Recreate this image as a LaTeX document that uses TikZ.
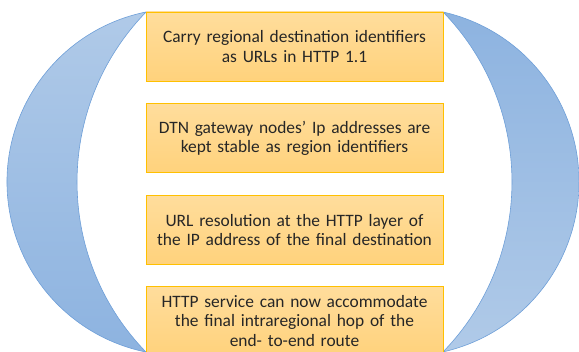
\documentclass[tikz,border=0pt]{standalone}
\usepackage{fontspec}
\setmainfont{Carlito}
\usepackage{xcolor}
\usetikzlibrary{positioning,calc}
\definecolor{moonlight}{HTML}{B0CAE8}
\definecolor{moondark}{HTML}{8DB3E0}
\definecolor{moonedge}{HTML}{6E9FD8}
\definecolor{boxtop}{HTML}{FFDD9C}
\definecolor{boxbottom}{HTML}{FFD27C}
\definecolor{boxedge}{HTML}{FFC000}
\definecolor{ink}{HTML}{262626}

\tikzset{
  stepbox/.style={draw=boxedge, line width=0.8pt, top color=boxtop, bottom color=boxbottom,
    minimum width=297pt, minimum height=69pt, text width=292pt, align=center,
    text=ink, font=\fontsize{17.4}{19.6}\selectfont, inner sep=0pt},
  moon/.style={draw=moonedge, line width=0.6pt}
}

\begin{document}
\begin{tikzpicture}[x=1pt, y=1pt]
      \useasboundingbox (0,0) rectangle (579,352);
      % left and right half moons
      \begin{scope}
        \clip (0,0) rectangle (579,352);
        \path [moon, top color=moonlight, bottom color=moondark]
          (146,340) arc[start angle=101.47, end angle=258.53, radius=173.5]
          arc[start angle=224.18, end angle=135.82, radius=243.9] -- cycle;
        \path [moon, top color=moondark, bottom color=moonlight]
          (443,340) arc[start angle=77.34, end angle=-77.34, radius=174.2]
          arc[start angle=-44.18, end angle=44.18, radius=243.9] -- cycle;
      \end{scope}
      % the four steps
      \node (carry_urls) [stepbox] at (294.5,305.5) {Carry regional destination identifiers\\as URLs in HTTP 1.1};
      \node (stable_ips) [stepbox, below=22pt of carry_urls] {DTN gateway nodes’ Ip addresses are\\kept stable as region identifiers};
      \node (url_resolve) [stepbox, below=22pt of stable_ips] {URL resolution at the HTTP layer of\\the IP address of the final destination};
      \node (final_hop) [stepbox, below=21pt of url_resolve] {HTTP service can now accommodate\\the final intraregional hop of the\\end- to-end route};
\end{tikzpicture}
\end{document}
